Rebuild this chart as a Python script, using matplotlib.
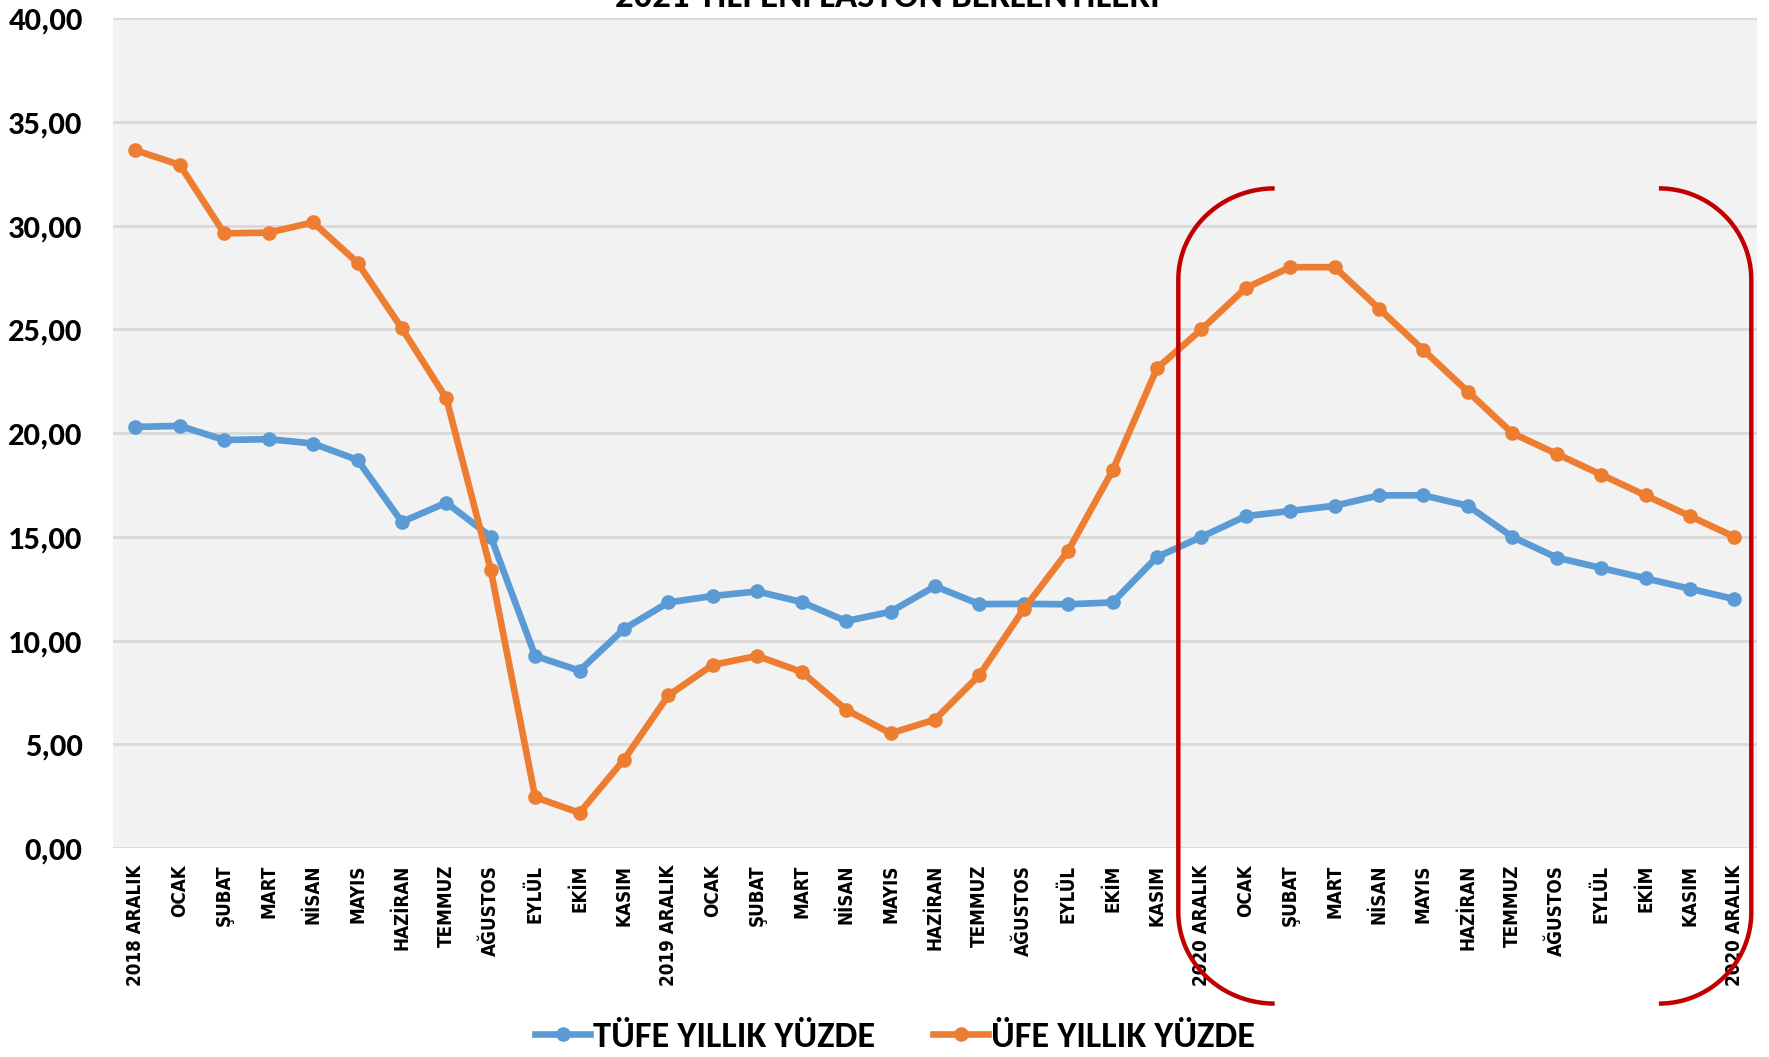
import matplotlib
matplotlib.use("Agg")
import matplotlib.pyplot as plt
import numpy as np
from matplotlib.lines import Line2D

# Data
months = ["2018 ARALIK", "OCAK", "ŞUBAT", "MART", "NİSAN", "MAYIS", "HAZİRAN",
          "TEMMUZ", "AĞUSTOS", "EYLÜL", "EKİM", "KASIM",
          "2019 ARALIK", "OCAK", "ŞUBAT", "MART", "NİSAN", "MAYIS", "HAZİRAN",
          "TEMMUZ", "AĞUSTOS", "EYLÜL", "EKİM", "KASIM",
          "2020 ARALIK", "OCAK", "ŞUBAT", "MART", "NİSAN", "MAYIS", "HAZİRAN",
          "TEMMUZ", "AĞUSTOS", "EYLÜL", "EKİM", "KASIM", "2020 ARALIK"]

tufe = [20.30, 20.35, 19.67, 19.71, 19.50, 18.71, 15.72, 16.65, 15.01, 9.26, 8.55, 10.56,
        11.84, 12.15, 12.37, 11.86, 10.94, 11.39, 12.62, 11.76, 11.77, 11.75, 11.84, 14.03,
        15.00, 16.00, 16.25, 16.50, 17.00, 17.00, 16.50, 15.00, 14.00, 13.50, 13.00, 12.50, 12.00]

ufe = [33.64, 32.93, 29.63, 29.67, 30.16, 28.22, 25.05, 21.68, 13.41, 2.45, 1.70, 4.26,
       7.36, 8.83, 9.26, 8.49, 6.67, 5.53, 6.19, 8.33, 11.52, 14.33, 18.20, 23.13,
       25.00, 27.00, 28.00, 28.00, 26.00, 24.00, 22.00, 20.00, 19.00, 18.00, 17.00, 16.00, 15.00]

yticks = np.arange(0, 45, 5)

title = "2021 YILI ENFLASYON BEKLENTİLERİ"
narrow = ["Carlito", "Open Sans Condensed", "DejaVu Sans"]
blue = "#5B9BD5"
orange = "#ED7D31"
red = "#C00000"

fig = plt.figure(figsize=(17.69, 10.57), dpi=100)
ax = fig.add_axes([0.064, 0.1977, 0.929, 0.785])
ax.set_facecolor("#F2F2F2")

x = np.arange(len(months))
ax.plot(x, tufe, color=blue, lw=4.8, marker="o", ms=9.5, label="TÜFE YILLIK YÜZDE",
        solid_joinstyle="round", zorder=3)
ax.plot(x, ufe, color=orange, lw=4.8, marker="o", ms=9.5, label="ÜFE YILLIK YÜZDE",
        solid_joinstyle="round", zorder=3)

ax.set_xlim(-0.5, len(months) - 0.5)
ax.set_ylim(0, 40)
ax.set_yticks(yticks)
ax.set_yticklabels([f"{v:.2f}".replace(".", ",") for v in yticks],
                   family=narrow, fontweight="bold", fontsize=23.5)
ax.set_xticks(x)
ax.set_xticklabels(months, rotation=90, fontweight="bold", fontsize=13.5,
                   family="DejaVu Sans", fontstretch="condensed")
ax.tick_params(axis="both", length=0)
ax.tick_params(axis="y", pad=22)
ax.tick_params(axis="x", pad=12)
ax.grid(axis="y", color="#D9D9D9", lw=2)
ax.set_axisbelow(True)
for s in ax.spines.values():
    s.set_visible(False)

# title sits mostly above the canvas, as in the reference
fig.text(0.5018, 0.9935, title, ha="center", va="baseline", family=narrow,
         fontweight="bold", fontsize=26.5)


# red brackets around the 2021 forecast block
def bracket(x_line, x_end, y_top, y_bot, ry):
    rx = x_end - x_line
    t = np.linspace(0, np.pi / 2, 40)
    top_x = x_end - rx * np.sin(t)
    top_y = (y_top - ry) + ry * np.cos(t)
    bot_x = x_line + rx * (1 - np.cos(t))
    bot_y = (y_bot + ry) - ry * np.sin(t)
    xs = np.concatenate([top_x, bot_x])
    ys = np.concatenate([top_y, bot_y])
    ax.add_line(Line2D(xs, ys, color=red, lw=3.2, clip_on=False, zorder=5,
                       solid_capstyle="butt"))


bracket(23.48, 25.65, 31.8, -7.5, 4.4)
bracket(36.38, 34.3, 31.8, -7.5, 4.4)

fig.legend(loc="center", bbox_to_anchor=(0.506, 0.019), ncol=2, frameon=False,
           prop={"family": narrow, "weight": "bold", "size": 26.2},
           handlelength=1.5, handletextpad=0.08, columnspacing=1.6, borderaxespad=0)

fig.savefig("out.png", dpi=100, facecolor="white")
